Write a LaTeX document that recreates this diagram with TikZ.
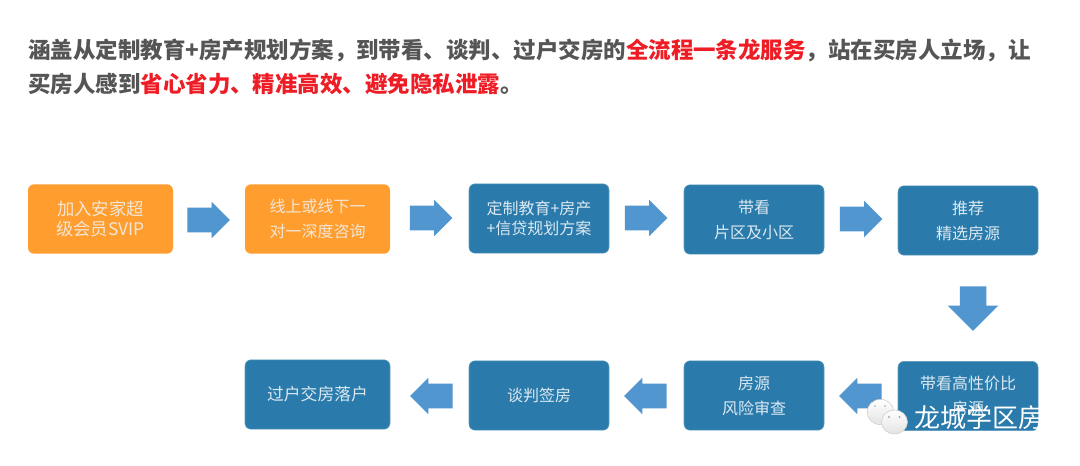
\documentclass[tikz,border=0pt]{standalone}
\usepackage{fontspec}
\usetikzlibrary{shapes.arrows,shapes.geometric}
\setmainfont{Noto Sans CJK SC}
\definecolor{headgray}{HTML}{555555}
\definecolor{headred}{HTML}{EE1C25}
\definecolor{boxorange}{HTML}{FF9D2F}
\definecolor{boxblue}{HTML}{2A7BAB}
\definecolor{arrowblue}{HTML}{5296D0}
\definecolor{boxtext}{HTML}{F2E6D6}
\definecolor{bluetext}{HTML}{DCE9F2}
\tikzset{
  x=0.75pt,y=-0.75pt,
  flowbox/.style={rectangle,rounded corners=4.5pt,minimum height=52pt,align=center,inner sep=0pt,font=\fontsize{12pt}{18.75pt}\selectfont},
  orangebox/.style={flowbox,fill=boxorange,text=boxtext,minimum width=108.75pt},
  bluebox/.style={flowbox,fill=boxblue,draw=boxblue!75!white,line width=0.4pt,text=bluetext,minimum width=105pt},
  widebluebox/.style={bluebox,minimum width=108.75pt},
  blockarrow/.style={single arrow,fill=arrowblue,inner xsep=0pt,inner ysep=9pt,minimum height=32pt,single arrow head extend=4.5pt,single arrow head indent=0pt,anchor=center},
  bigarrow/.style={blockarrow,inner ysep=9.75pt,minimum height=33.5pt,single arrow head extend=9pt},
  headline/.style={anchor=west,inner sep=0pt,text=headgray,font=\bfseries\fontsize{16.85pt}{18pt}\selectfont},
  bubble/.style={bottom color=gray!22,top color=white,draw=gray!40,line width=0.4pt,ellipse,inner sep=0pt},
  marktext/.style={anchor=west,inner sep=0pt,text=white,font=\fontsize{19.5pt}{22pt}\selectfont}
}
\newcommand{\hl}[1]{\textcolor{headred}{#1}}
\begin{document}
\begin{tikzpicture}
\useasboundingbox (0,0) rectangle (1080,465);
\fill[white] (0,0) rectangle (1080,465);
\node[headline] (line1) at (28,50) {涵盖从定制教育+房产规划方案，到带看、谈判、过户交房的\hl{全流程一条龙服务}，站在买房人立场，让};
\node[headline] (line2) at (28,84) {买房人感到\hl{省心省力、精准高效、避免隐私泄露}。};

\node[orangebox,font=\fontsize{13pt}{15.5pt}\selectfont] (b1) at (100.5,219) {加入安家超\\级会员SVIP};
\node[orangebox] (b2) at (317.5,219) {线上或线下一\\对一深度咨询};
\node[bluebox,font=\fontsize{12pt}{14.6pt}\selectfont] (b3) at (539,218.5) {定制教育+房产\\+信贷规划方案};
\node[bluebox] (b4) at (754,219.5) {带看\\片区及小区};
\node[bluebox] (b5) at (968,220.5) {推荐\\精选房源};
\node[bluebox] (b6) at (968,396) {带看高性价比\\房源};
\node[bluebox] (b7) at (754,395.5) {房源\\风险审查};
\node[bluebox] (b8) at (539,395.5) {谈判签房};
\node[widebluebox,font=\fontsize{12.6pt}{18pt}\selectfont] (b9) at (317.5,394.5) {过户交房落户};

\node[blockarrow] (a1) at (202.5,220) {};
\node[blockarrow] (a2) at (425,218) {};
\node[blockarrow] (a3) at (640,218) {};
\node[blockarrow] (a4) at (855,219) {};
\node[bigarrow,rotate=-90] (a5) at (973,302) {};
\node[blockarrow,rotate=180] (a6) at (866.5,396) {};
\node[blockarrow,rotate=180] (a7) at (651.5,396) {};
\node[blockarrow,rotate=180] (a8) at (437.5,396) {};

\fill[white] (872,420) -- (875,431) -- (884,424) -- cycle;
\node[bubble,minimum width=20pt,minimum height=19pt] (w1) at (880.5,412) {};
\fill[white] (895,430) -- (905,436) -- (902,428) -- cycle;
\node[bubble,minimum width=19.5pt,minimum height=18pt] (w2) at (894.5,422) {};
\fill[gray!70] (889,417) circle (0.8pt) (899.5,417) circle (0.8pt) (875,406) circle (0.7pt) (885,406) circle (0.7pt);
\node[marktext] (mark) at (914,418) {龙城学区房};
\end{tikzpicture}
\end{document}
